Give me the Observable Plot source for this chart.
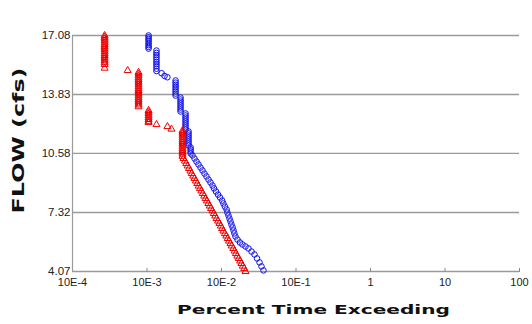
<!DOCTYPE html>
<html>
<head>
<meta charset="utf-8">
<script src="https://cdn.jsdelivr.net/npm/d3@7"></script>
<script src="https://cdn.jsdelivr.net/npm/@observablehq/plot@0.6"></script>
<style>
  html, body { margin: 0; padding: 0; background: #fff; }
  #chart svg { display: block; }
</style>
</head>
<body>
<div id="chart"></div>
<script>
// ---- Axis ticks and labels ----
const xTicks = [1e-4, 1e-3, 1e-2, 1e-1, 1, 10, 100];
const xTickLabels = ["10E-4", "10E-3", "10E-2", "10E-1", "1", "10", "100"];
const yTicks = [4.07, 7.32, 10.58, 13.83, 17.08];
const xTitle = "Percent Time Exceeding";
const yTitle = "FLOW (cfs)";

// ---- Series 1 (red triangles): percent time exceeding, flow ----
const redPct = [
  2.7e-4, 2.7e-4, 2.7e-4, 2.7e-4, 2.7e-4, 2.7e-4, 2.7e-4, 2.7e-4, 2.7e-4, 2.7e-4,
  2.7e-4, 2.7e-4, 2.7e-4, 2.7e-4, 2.7e-4, 2.7e-4, 2.7e-4, 2.7e-4,
  5.5e-4,
  7.7e-4, 7.7e-4, 7.7e-4, 7.7e-4, 7.7e-4, 7.7e-4, 7.7e-4, 7.7e-4, 7.7e-4, 7.7e-4,
  7.7e-4, 7.7e-4, 7.7e-4, 7.7e-4, 7.7e-4, 7.7e-4, 7.7e-4, 7.7e-4, 7.7e-4, 7.7e-4,
  1.05e-3, 1.05e-3, 1.05e-3, 1.05e-3, 1.05e-3, 1.05e-3, 1.05e-3, 1.05e-3,
  1.34e-3, 1.88e-3, 2.13e-3,
  3.0e-3, 3.0e-3, 3.0e-3, 3.0e-3, 3.0e-3, 3.0e-3, 3.0e-3, 3.0e-3, 3.0e-3, 3.0e-3,
  3.0e-3, 3.0e-3, 3.0e-3, 3.0e-3, 3.0e-3,
  3.09e-3, 3.23e-3, 3.36e-3, 3.51e-3, 3.66e-3, 3.83e-3, 3.98e-3, 4.16e-3, 4.34e-3, 4.53e-3,
  4.73e-3, 4.93e-3, 5.14e-3, 5.37e-3, 5.61e-3, 5.86e-3, 6.12e-3, 6.37e-3, 6.65e-3, 6.95e-3,
  7.24e-3, 7.57e-3, 7.89e-3, 8.23e-3, 8.59e-3, 8.98e-3, 9.38e-3, 9.79e-3, 1.02e-2, 1.06e-2,
  1.11e-2, 1.16e-2, 1.21e-2, 1.26e-2, 1.32e-2, 1.37e-2, 1.44e-2, 1.50e-2, 1.56e-2, 1.63e-2,
  1.70e-2, 1.78e-2, 1.85e-2, 1.93e-2, 2.02e-2, 2.10e-2
];
const redFlow = [
  17.08, 16.98, 16.88, 16.78, 16.68, 16.58, 16.48, 16.38, 16.28, 16.18,
  16.08, 15.98, 15.88, 15.78, 15.68, 15.58, 15.48, 15.28,
  15.15,
  15.05, 14.95, 14.85, 14.75, 14.65, 14.55, 14.45, 14.35, 14.25, 14.15,
  14.05, 13.95, 13.85, 13.75, 13.65, 13.55, 13.45, 13.35, 13.25, 13.15,
  12.95, 12.85, 12.75, 12.65, 12.55, 12.45, 12.35, 12.28,
  12.17, 12.06, 11.92,
  11.84, 11.74, 11.64, 11.54, 11.44, 11.34, 11.24, 11.14, 11.04, 10.94,
  10.84, 10.74, 10.64, 10.54, 10.42,
  10.30, 10.16, 10.02, 9.89, 9.75, 9.61, 9.47, 9.33, 9.20, 9.06,
  8.92, 8.78, 8.65, 8.51, 8.37, 8.23, 8.09, 7.96, 7.82, 7.68,
  7.54, 7.41, 7.27, 7.13, 6.99, 6.85, 6.72, 6.58, 6.44, 6.30,
  6.16, 6.03, 5.89, 5.75, 5.61, 5.48, 5.34, 5.20, 5.06, 4.92,
  4.79, 4.65, 4.51, 4.37, 4.24, 4.07
];

// ---- Series 2 (blue circles): percent time exceeding, flow ----
const bluePct = [
  1.05e-3, 1.05e-3, 1.05e-3, 1.05e-3, 1.05e-3, 1.05e-3, 1.05e-3, 1.05e-3,
  1.34e-3, 1.34e-3, 1.34e-3, 1.34e-3, 1.34e-3, 1.34e-3, 1.34e-3, 1.34e-3, 1.34e-3, 1.34e-3,
  1.57e-3, 1.72e-3, 1.88e-3,
  2.42e-3, 2.42e-3, 2.42e-3, 2.42e-3, 2.42e-3, 2.42e-3, 2.42e-3, 2.42e-3,
  2.82e-3, 2.82e-3, 2.82e-3, 2.82e-3, 2.82e-3, 2.82e-3, 2.82e-3, 2.82e-3,
  3.29e-3, 3.29e-3, 3.29e-3, 3.29e-3, 3.29e-3, 3.29e-3, 3.29e-3, 3.29e-3, 3.29e-3,
  3.61e-3, 3.61e-3, 3.61e-3, 3.61e-3, 3.61e-3, 3.61e-3, 3.61e-3, 3.61e-3,
  3.85e-3, 3.85e-3, 3.85e-3, 3.85e-3,
  4.08e-3, 4.34e-3, 4.62e-3, 4.91e-3, 5.23e-3, 5.56e-3, 5.91e-3, 6.29e-3, 6.69e-3, 7.11e-3,
  7.57e-3, 7.93e-3, 8.43e-3, 8.98e-3, 9.55e-3, 1.02e-2, 1.06e-2, 1.11e-2, 1.17e-2, 1.20e-2,
  1.24e-2, 1.28e-2, 1.32e-2, 1.36e-2, 1.41e-2, 1.45e-2, 1.49e-2, 1.54e-2, 1.64e-2, 1.77e-2,
  1.91e-2, 2.10e-2, 2.30e-2, 2.53e-2, 2.77e-2, 3.00e-2, 3.24e-2, 3.44e-2, 3.66e-2
];
const blueFlow = [
  17.08, 16.98, 16.88, 16.78, 16.66, 16.55, 16.45, 16.36,
  16.25, 16.12, 16.00, 15.88, 15.75, 15.62, 15.50, 15.38, 15.25, 15.12,
  15.00, 14.85, 14.78,
  14.60, 14.48, 14.36, 14.24, 14.12, 14.00, 13.88, 13.77,
  13.66, 13.55, 13.44, 13.33, 13.22, 13.11, 13.00, 12.89,
  12.78, 12.67, 12.56, 12.45, 12.34, 12.23, 12.12, 12.01, 11.90,
  11.79, 11.68, 11.57, 11.46, 11.35, 11.24, 11.13, 11.02,
  10.91, 10.80, 10.69, 10.58,
  10.47, 10.30, 10.13, 9.97, 9.80, 9.64, 9.47, 9.31, 9.14, 8.98,
  8.81, 8.65, 8.48, 8.31, 8.15, 7.98, 7.82, 7.65, 7.49, 7.32,
  7.16, 6.99, 6.83, 6.66, 6.50, 6.33, 6.17, 6.00, 5.83, 5.67,
  5.56, 5.45, 5.34, 5.17, 5.01, 4.79, 4.57, 4.35, 4.13
];

const red = redPct.map((p, i) => ({pct: p, flow: redFlow[i]}));
const blue = bluePct.map((p, i) => ({pct: p, flow: blueFlow[i]}));

const chart = Plot.plot({
  width: 532,
  height: 324,
  marginLeft: 72,
  marginRight: 13,
  marginTop: 35,
  marginBottom: 53,
  style: {fontFamily: "Liberation Sans, Arial, sans-serif", background: "#fff", color: "#222"},
  x: {type: "log", domain: [xTicks[0], xTicks[xTicks.length - 1]], label: null},
  y: {domain: [yTicks[0], yTicks[yTicks.length - 1]], label: null},
  marks: [
    Plot.ruleY(yTicks, {stroke: "#9a9a9a", strokeWidth: 1.4}),
    Plot.ruleX([xTicks[0]], {stroke: "#9a9a9a", strokeWidth: 1.2}),
    Plot.ruleX(xTicks.slice(1), {y1: yTicks[0], y2: yTicks[0], insetTop: -3, insetBottom: -1, stroke: "#888"}),
    Plot.axisX({
      ticks: xTicks,
      tickSize: 0,
      tickPadding: 7,
      fontSize: 11,
      tickFormat: d => xTickLabels[Math.round(Math.log10(d)) + 4],
      label: null
    }),
    Plot.axisY({
      ticks: yTicks,
      tickSize: 0,
      tickPadding: 2,
      fontSize: 11.5,
      tickFormat: d => d.toFixed(2),
      label: null
    }),
    Plot.dot(blue, {x: "pct", y: "flow", symbol: "circle", r: 2.8, stroke: "#1010e6", strokeWidth: 1, fill: "none"}),
    Plot.dot(red, {x: "pct", y: "flow", symbol: "triangle", r: 2.6, stroke: "#ee0000", strokeWidth: 1, fill: "none"}),
    Plot.text([xTitle], {text: d => d, frameAnchor: "bottom", textAnchor: "middle", lineAnchor: "middle", dx: 17.5, dy: 38, fontSize: 13, fontWeight: "bold", fontFamily: "DejaVu Sans", fill: "#111"}),
    Plot.text([yTitle], {text: d => d, frameAnchor: "left", textAnchor: "middle", lineAnchor: "middle", rotate: -90, dx: -54, dy: -13, fontSize: 16, fontWeight: "bold", fontFamily: "DejaVu Sans", fill: "#111"})
  ]
});

d3.select(chart).selectAll("text")
  .filter(function () { return this.textContent === xTitle; })
  .attr("textLength", 273).attr("lengthAdjust", "spacingAndGlyphs");
d3.select(chart).selectAll("text")
  .filter(function () { return this.textContent === yTitle; })
  .attr("textLength", 146).attr("lengthAdjust", "spacingAndGlyphs");

document.getElementById("chart").append(chart);
</script>
</body>
</html>
